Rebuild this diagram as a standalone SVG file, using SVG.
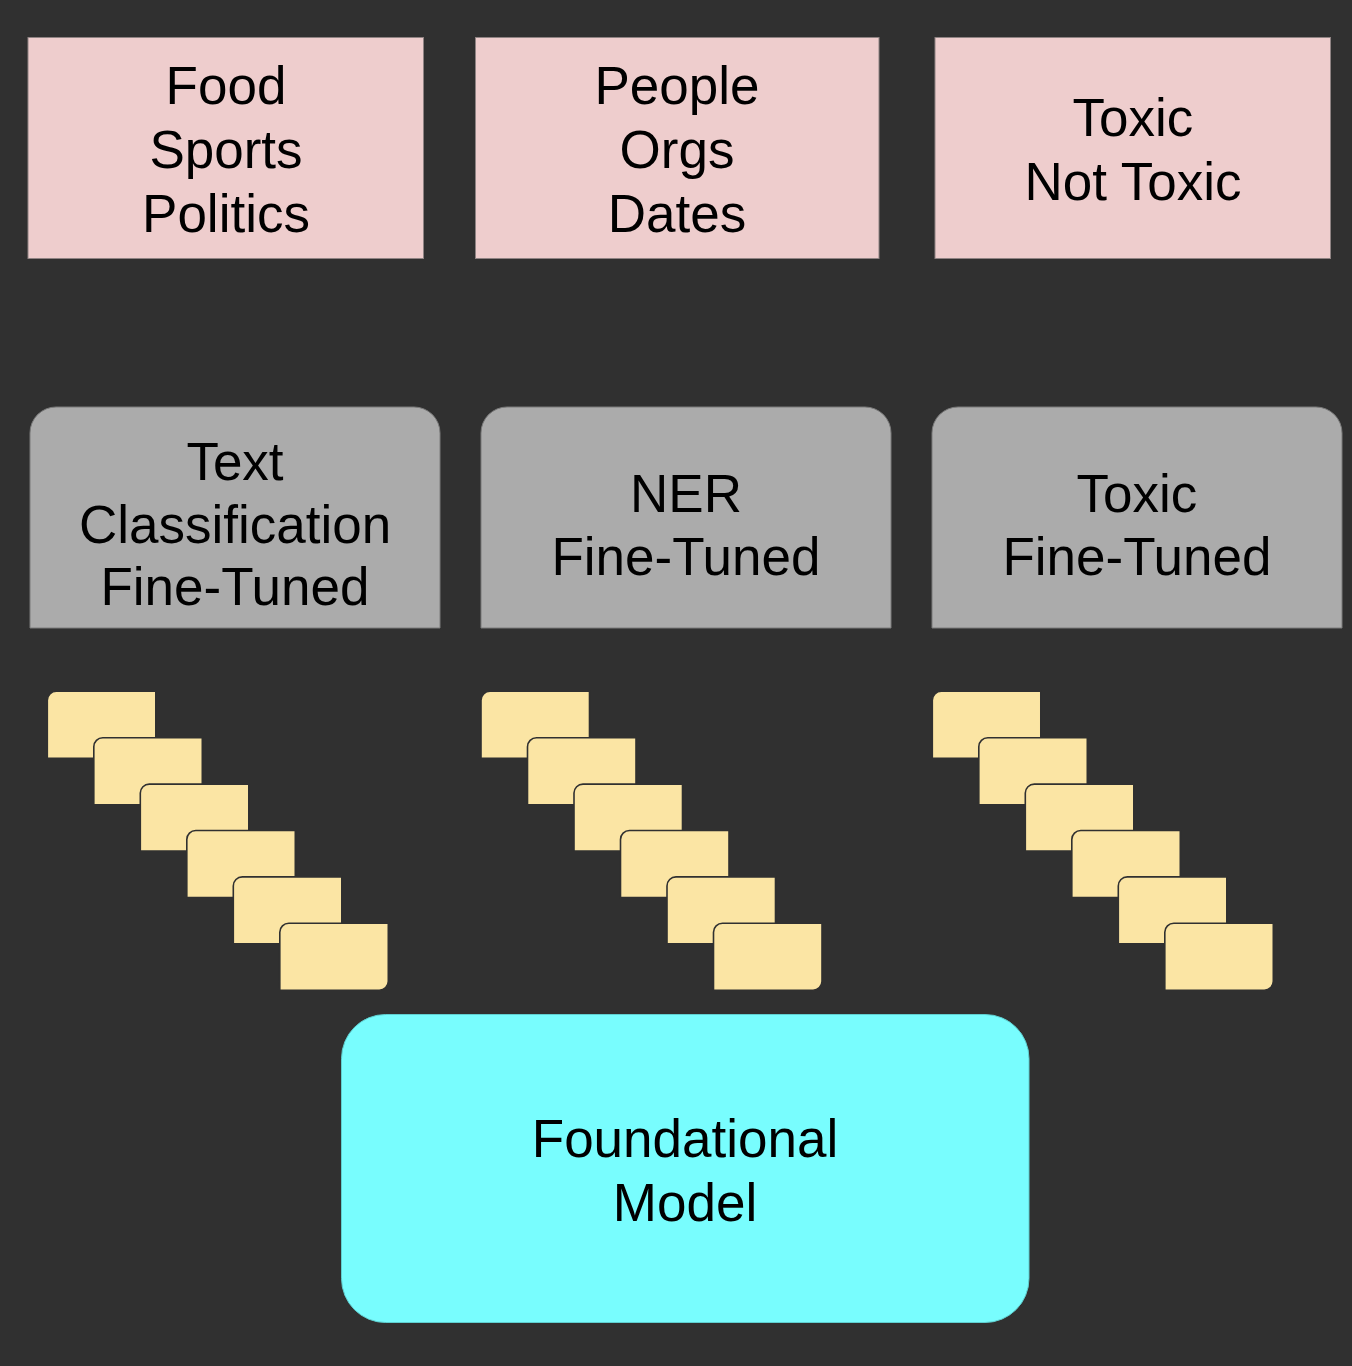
<svg xmlns="http://www.w3.org/2000/svg" xmlns:xlink="http://www.w3.org/1999/xlink" width="1352" height="1366" viewBox="0 0 1352 1366">
<style>
text{font-family:"Liberation Sans",Arial,sans-serif;font-size:53px;fill:#000;text-anchor:middle}
.label{fill:#eecdcd;stroke:#8f8383;stroke-width:1}
.task{fill:#ababab;stroke:#7a7a7a;stroke-width:1}
.card{fill:#fbe5a4;stroke:#303030;stroke-width:1.6}
.base{fill:#78fdfe;stroke:#5fcfd0;stroke-width:1}
</style>
<defs>
<path id="cardShape" class="card" d="M0,9 A9,9 0 0 1 9,0 H108.5 V58 A9,9 0 0 1 99.5,67 H0 Z"/>
<g id="stack">
<use xlink:href="#cardShape" href="#cardShape" x="0" y="0"/>
<use xlink:href="#cardShape" href="#cardShape" x="46.5" y="46.4"/>
<use xlink:href="#cardShape" href="#cardShape" x="93" y="92.8"/>
<use xlink:href="#cardShape" href="#cardShape" x="139.5" y="139.2"/>
<use xlink:href="#cardShape" href="#cardShape" x="186" y="185.6"/>
<use xlink:href="#cardShape" href="#cardShape" x="232.5" y="232"/>
</g>
</defs>
<rect width="1352" height="1366" fill="#303030"/>
<g id="connectors"/>
<g id="labels-textclass">
<rect class="label" x="28" y="37.5" width="395.5" height="221"/>
<text x="226" y="104">Food</text>
<text x="226" y="168">Sports</text>
<text x="226" y="232">Politics</text>
</g>
<g id="labels-ner">
<rect class="label" x="475.5" y="37.5" width="403.5" height="221"/>
<text x="677" y="104">People</text>
<text x="677" y="168">Orgs</text>
<text x="677" y="232">Dates</text>
</g>
<g id="labels-toxic">
<rect class="label" x="935" y="37.5" width="395.5" height="221"/>
<text x="1133" y="136">Toxic</text>
<text x="1133" y="200">Not Toxic</text>
</g>
<g id="model-textclass">
<path class="task" d="M30,628 V433 A26,26 0 0 1 56,407 H414 A26,26 0 0 1 440,433 V628 Z"/>
<text x="235" y="480">Text</text>
<text x="235" y="542.5">Classification</text>
<text x="235" y="605">Fine-Tuned</text>
</g>
<g id="model-ner">
<path class="task" d="M481,628 V433 A26,26 0 0 1 507,407 H865 A26,26 0 0 1 891,433 V628 Z"/>
<text x="686" y="512">NER</text>
<text x="686" y="575">Fine-Tuned</text>
</g>
<g id="model-toxic">
<path class="task" d="M932,628 V433 A26,26 0 0 1 958,407 H1316 A26,26 0 0 1 1342,433 V628 Z"/>
<text x="1137" y="512">Toxic</text>
<text x="1137" y="575">Fine-Tuned</text>
</g>
<g id="data-textclass">
<use xlink:href="#stack" href="#stack" x="47.3" y="691.3"/>
</g>
<g id="data-ner">
<use xlink:href="#stack" href="#stack" x="481" y="691.3"/>
</g>
<g id="data-toxic">
<use xlink:href="#stack" href="#stack" x="932.3" y="691.3"/>
</g>
<g id="foundational">
<rect class="base" x="341.5" y="1014.5" width="687.5" height="308" rx="44" ry="44"/>
<text x="685" y="1157">Foundational</text>
<text x="685" y="1221">Model</text>
</g>
</svg>
